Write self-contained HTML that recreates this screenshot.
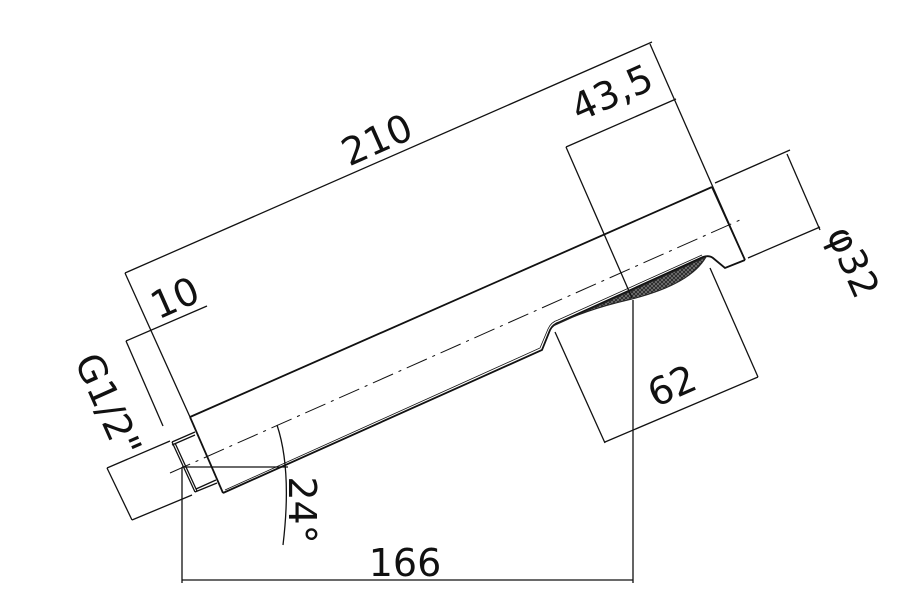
<!DOCTYPE html>
<html><head><style>
html,body{margin:0;padding:0;background:#fff}
svg{display:block}
text{font-family:"DejaVu Sans","Liberation Sans",sans-serif;font-size:38px;fill:#111;text-anchor:middle;dominant-baseline:central}
</style></head><body>
<svg width="899" height="599" viewBox="0 0 899 599" xmlns="http://www.w3.org/2000/svg">
<defs>
<pattern id="mesh" width="4" height="4" patternUnits="userSpaceOnUse">
<rect width="4" height="4" fill="#777"/>
<path d="M0 0L4 4M4 0L0 4" stroke="#222" stroke-width="0.8"/>
</pattern>
</defs>
<g stroke="#111" stroke-width="1.3" fill="none">
<line x1="190" y1="417" x2="712" y2="187" stroke-width="1.8"/>
<line x1="190" y1="417" x2="223" y2="493" stroke-width="1.8"/>
<line x1="712" y1="187" x2="745" y2="260" stroke-width="1.8"/>
<path d="M223 493 L542 350 L550 330 Q553 324 560 322 L703 257 Q709 255 713 258 L725 268 L745 260" stroke-width="1.8"/>
<path d="M225 490 L540 348 L548 329 Q551 322 558 320 L702 255" stroke-width="0.8"/>
<path d="M553 326 L706 257 Q690 285 628 300 Q585 310 553 326 Z" fill="url(#mesh)" stroke="#222" stroke-width="1"/>
<path d="M172 442 L195 432 M172 445 L195 435 M172 442 L195 492 M175 443 L197 491 M195 492 L217 483 M196 489 L216 480" stroke-width="1.3"/>
<line x1="170" y1="473" x2="740" y2="220" stroke-width="1" stroke-dasharray="22,6,3,6"/>
<line x1="182" y1="467" x2="288" y2="467"/>
<line x1="182" y1="467" x2="182" y2="583"/>
<path d="M277 425 Q292 470 283 545"/>
<line x1="182" y1="580" x2="633" y2="580"/>
<line x1="633" y1="300" x2="633" y2="583"/>
<line x1="566" y1="147" x2="632" y2="298"/>
<line x1="566" y1="147" x2="676" y2="99"/>
<line x1="125" y1="273" x2="652" y2="42"/>
<line x1="125" y1="273" x2="190" y2="417"/>
<line x1="650" y1="44" x2="745" y2="260"/>
<line x1="126" y1="341" x2="163" y2="426"/>
<line x1="126" y1="341" x2="207" y2="306"/>
<line x1="107" y1="468" x2="132" y2="520"/>
<line x1="107" y1="468" x2="170" y2="441"/>
<line x1="132" y1="520" x2="192" y2="495"/>
<line x1="715" y1="183" x2="790" y2="150"/>
<line x1="748" y1="258" x2="820" y2="227"/>
<line x1="787" y1="154" x2="820" y2="230"/>
<line x1="555" y1="332" x2="605" y2="443"/>
<line x1="710" y1="268" x2="758" y2="377"/>
<line x1="605" y1="442" x2="758" y2="377"/>
</g>
<text transform="translate(377,140) rotate(-24)">210</text>
<text transform="translate(612,93) rotate(-24)">43,5</text>
<text transform="translate(175,298) rotate(-24)">10</text>
<text transform="translate(672,386) rotate(-24)">62</text>
<text transform="translate(853,262) rotate(66)">φ32</text>
<text transform="translate(108,405) rotate(66)">G1/2"</text>
<text transform="translate(302,510) rotate(90)">24°</text>
<text x="405" y="563">166</text>
</svg>
</body></html>
